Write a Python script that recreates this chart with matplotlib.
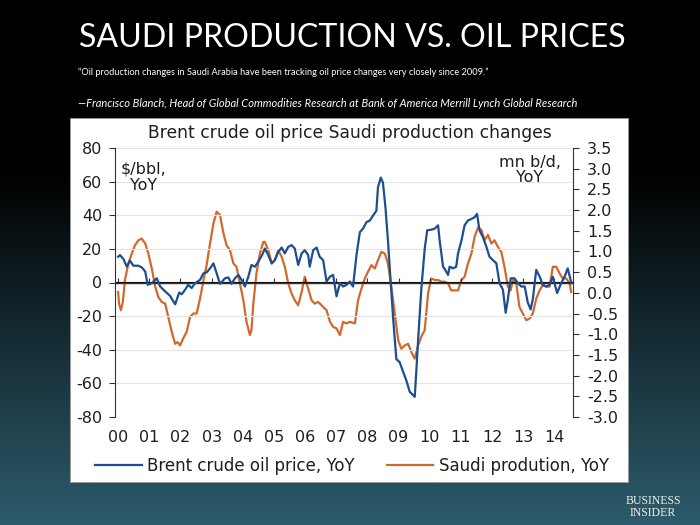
import numpy as np
import matplotlib
matplotlib.use("Agg")
import matplotlib.pyplot as plt
from matplotlib.patches import Rectangle
from matplotlib.lines import Line2D

plt.rcParams["axes.unicode_minus"] = False

# ── data (decimal years) ─────────────────────────────────────────────────
brent_years = [
    2000.00, 2000.06, 2000.17, 2000.28, 2000.38, 2000.49, 2000.65, 2000.76, 2000.87, 2000.95,
    2001.08, 2001.24, 2001.35, 2001.51, 2001.67, 2001.83, 2001.96, 2002.04, 2002.15, 2002.25,
    2002.36, 2002.47, 2002.63, 2002.74, 2002.84, 2002.95, 2003.06, 2003.16, 2003.27, 2003.43,
    2003.54, 2003.64, 2003.75, 2003.86, 2003.96, 2004.07, 2004.18, 2004.28, 2004.39, 2004.50,
    2004.62, 2004.71, 2004.82, 2004.93, 2005.03, 2005.14, 2005.25, 2005.35, 2005.46, 2005.57,
    2005.67, 2005.78, 2005.89, 2005.99, 2006.10, 2006.15, 2006.26, 2006.37, 2006.47, 2006.58,
    2006.69, 2006.80, 2006.90, 2007.01, 2007.12, 2007.22, 2007.33, 2007.44, 2007.54, 2007.65,
    2007.76, 2007.86, 2007.97, 2008.08, 2008.18, 2008.29, 2008.34, 2008.43, 2008.50, 2008.58,
    2008.66, 2008.75, 2008.83, 2008.93, 2009.04, 2009.15, 2009.25, 2009.36, 2009.47, 2009.52,
    2009.57, 2009.63, 2009.73, 2009.84, 2009.92, 2010.05, 2010.16, 2010.27, 2010.32, 2010.43,
    2010.50, 2010.59, 2010.64, 2010.75, 2010.85, 2010.91, 2011.02, 2011.12, 2011.23, 2011.34,
    2011.44, 2011.52, 2011.60, 2011.71, 2011.82, 2011.92, 2012.03, 2012.14, 2012.24, 2012.35,
    2012.44, 2012.51, 2012.60, 2012.72, 2012.83, 2012.94, 2013.05, 2013.15, 2013.24, 2013.31,
    2013.42, 2013.53, 2013.63, 2013.74, 2013.85, 2013.95, 2014.09, 2014.22, 2014.33, 2014.43,
    2014.52, 2014.55,
]
brent_yoy = [
    15.3, 16.3, 14.0, 9.4, 13.0, 10.0, 10.0, 9.0, 6.5, -1.4,
    -0.4, 2.5, -2.4, -5.3, -8.0, -13.0, -6.0, -7.0, -4.3, -1.4,
    -3.3, -0.4, 1.6, 5.5, 6.0, 8.4, 11.4, 5.5, -0.8, 2.5,
    3.0, -0.8, 2.5, 4.5, 1.6, -2.4, 3.5, 10.4, 9.4, 12.4,
    16.3, 20.2, 16.3, 11.4, 13.3, 18.2, 20.8, 17.3, 21.2, 22.2,
    20.2, 10.4, 17.3, 19.2, 16.3, 9.4, 19.2, 20.8, 15.3, 13.3,
    0.6, 3.5, 4.5, -8.2, -0.4, -2.4, -1.4, 0.6, -2.4, 16.3,
    30.0, 32.0, 35.9, 36.9, 39.8, 42.7, 56.5, 62.4, 59.4, 44.7,
    25.1, -0.4, -22.0, -45.5, -47.5, -53.3, -58.2, -65.0, -67.0, -68.0,
    -53.0, -33.7, -4.3, 20.0, 31.0, 31.4, 32.0, 34.0, 25.0, 9.4,
    7.5, 4.5, 9.4, 8.4, 9.4, 17.3, 25.0, 34.0, 36.9, 37.8,
    38.8, 40.8, 31.0, 27.0, 21.2, 15.3, 13.3, 11.4, -0.4, -4.3,
    -18.0, -10.0, 2.5, 2.5, -0.4, -2.4, -2.4, -12.0, -16.0, -10.0,
    7.5, 3.5, -1.4, -2.4, -1.4, 3.5, -6.3, -0.4, 3.5, 8.4,
    1.6, -0.4,
]

saudi_years = [
    2000.00, 2000.03, 2000.09, 2000.15, 2000.22, 2000.33, 2000.44, 2000.54, 2000.65, 2000.76,
    2000.87, 2000.97, 2001.08, 2001.19, 2001.29, 2001.40, 2001.51, 2001.61, 2001.72, 2001.83,
    2001.91, 2001.99, 2002.09, 2002.20, 2002.31, 2002.41, 2002.52, 2002.63, 2002.74, 2002.84,
    2002.95, 2003.06, 2003.16, 2003.27, 2003.38, 2003.48, 2003.59, 2003.70, 2003.80, 2003.91,
    2004.02, 2004.12, 2004.23, 2004.28, 2004.34, 2004.44, 2004.55, 2004.66, 2004.71, 2004.82,
    2004.93, 2005.03, 2005.14, 2005.25, 2005.35, 2005.46, 2005.57, 2005.67, 2005.78, 2005.89,
    2005.99, 2006.10, 2006.21, 2006.31, 2006.42, 2006.58, 2006.69, 2006.80, 2006.90, 2007.01,
    2007.12, 2007.22, 2007.33, 2007.44, 2007.60, 2007.70, 2007.81, 2007.92, 2008.02, 2008.13,
    2008.24, 2008.34, 2008.45, 2008.56, 2008.66, 2008.77, 2008.88, 2008.99, 2009.09, 2009.20,
    2009.31, 2009.41, 2009.52, 2009.63, 2009.73, 2009.84, 2009.90, 2009.95, 2010.05, 2010.16,
    2010.27, 2010.37, 2010.48, 2010.59, 2010.69, 2010.80, 2010.91, 2011.02, 2011.12, 2011.23,
    2011.34, 2011.44, 2011.55, 2011.66, 2011.76, 2011.87, 2011.98, 2012.08, 2012.19, 2012.30,
    2012.40, 2012.51, 2012.60, 2012.67, 2012.78, 2012.88, 2012.99, 2013.10, 2013.21, 2013.31,
    2013.42, 2013.53, 2013.63, 2013.74, 2013.85, 2013.95, 2014.06, 2014.17, 2014.27, 2014.38,
    2014.49, 2014.54,
]
saudi_yoy = [
    0.02, -0.26, -0.42, -0.22, 0.31, 0.71, 0.95, 1.15, 1.27, 1.31,
    1.19, 0.95, 0.59, 0.15, -0.10, -0.22, -0.26, -0.58, -0.94, -1.23,
    -1.19, -1.27, -1.10, -0.94, -0.58, -0.50, -0.50, -0.14, 0.31, 0.67,
    1.19, 1.68, 1.96, 1.88, 1.44, 1.15, 1.03, 0.71, 0.63, 0.23,
    -0.18, -0.70, -1.02, -0.90, -0.26, 0.47, 0.95, 1.23, 1.23, 1.03,
    0.71, 0.79, 1.03, 0.87, 0.63, 0.23, -0.02, -0.18, -0.30, 0.02,
    0.39, 0.10, -0.18, -0.26, -0.22, -0.34, -0.42, -0.70, -0.82, -0.86,
    -1.02, -0.70, -0.74, -0.70, -0.74, -0.18, 0.10, 0.35, 0.51, 0.67,
    0.59, 0.79, 0.99, 0.95, 0.71, 0.15, -0.50, -1.15, -1.35, -1.27,
    -1.23, -1.43, -1.59, -1.27, -1.06, -0.90, -0.40, 0.00, 0.35, 0.31,
    0.31, 0.27, 0.27, 0.23, 0.06, 0.06, 0.06, 0.31, 0.39, 0.71,
    0.95, 1.35, 1.58, 1.52, 1.27, 1.40, 1.19, 1.27, 1.11, 0.99,
    0.63, 0.15, 0.06, 0.31, 0.23, -0.34, -0.50, -0.66, -0.62, -0.50,
    -0.14, 0.06, 0.19, 0.15, 0.15, 0.63, 0.63, 0.47, 0.35, 0.35,
    0.23, 0.02,
]

year_ticks = list(range(2000, 2015))
year_labels = ["%02d" % (y - 2000) for y in year_ticks]
left_ticks = list(range(-80, 81, 20))
right_ticks = [-3.0, -2.5, -2.0, -1.5, -1.0, -0.5, 0.0, 0.5, 1.0, 1.5, 2.0, 2.5, 3.0, 3.5]

BLUE = "#1d4e8f"
ORANGE = "#d2692c"
INK = "#1e1e1e"
CHART_FONT = "DejaVu Sans"

fig = plt.figure(figsize=(7, 5.25), dpi=100)

# ── slide background: black fading into dark teal ──────────────────────
bg = fig.add_axes([0, 0, 1, 1], zorder=-10)
t = np.clip((np.arange(525) - 170) / 355.0, 0, 1)
bottom_rgb = np.array([45, 92, 108]) / 255.0
grad = t[:, None, None] * bottom_rgb[None, None, :]
bg.imshow(grad, aspect="auto", extent=[0, 1, 0, 1], origin="upper")
bg.add_patch(Rectangle((70 / 700, 1 - 482 / 525), 558 / 700, 364 / 525,
                       facecolor="white", edgecolor="#9a9a9a", lw=0.6))
bg.set_xlim(0, 1)
bg.set_ylim(0, 1)
bg.axis("off")

# ── slide texts ─────────────────────────────────────────────────────────
fig.text(352 / 700, 1 - 38 / 525, "SAUDI PRODUCTION VS. OIL PRICES",
         ha="center", va="center", color="white", fontsize=23.1, family="Lato")
fig.text(78 / 700, 1 - 72 / 525,
         "\u201cOil production changes in Saudi Arabia have been tracking oil price "
         "changes very closely since 2009.\u201d",
         ha="left", va="center", color="white", fontsize=6.7, family="Lato")
fig.text(78 / 700, 1 - 103 / 525,
         "\u2014Francisco Blanch, Head of Global Commodities Research at Bank of America "
         "Merrill Lynch Global Research",
         ha="left", va="center", color="white", fontsize=8.0, family="Lato",
         style="italic")
fig.text(653 / 700, 1 - 507 / 525, "BUSINESS\nINSIDER", ha="center", va="center",
         color="#eeeeee", fontsize=8.5, family="Liberation Serif", linespacing=1.0)

# ── chart ───────────────────────────────────────────────────────────────
ax = fig.add_axes([115 / 700, 1 - 417 / 525, 458 / 700, 269 / 525])
ax.set_facecolor("none")
ax2 = ax.twinx()

ax.set_xlim(1999.9, 2014.6)
ax.set_ylim(-80, 80)
ax2.set_ylim(-3.0, 3.5)

ax.set_yticks(left_ticks)
ax.set_yticklabels([str(v) for v in left_ticks])
ax2.set_yticks(right_ticks)
ax2.set_yticklabels(["%.1f" % v for v in right_ticks])
ax.set_xticks(year_ticks)
ax.set_xticklabels(year_labels)

ax.grid(axis="y", color="#e4e4e4", lw=0.8)
ax.set_axisbelow(True)
ax.axhline(0, color="#333333", lw=1.0, zorder=1)

zero_axis = ax.secondary_xaxis(0.5)
zero_axis.set_xticks(year_ticks)
zero_axis.set_xticklabels([])
zero_axis.tick_params(direction="out", length=3, width=0.8, color="#333333")
zero_axis.spines["bottom"].set_visible(False)

for a in (ax, ax2):
    for side in ("top", "bottom"):
        a.spines[side].set_visible(False)
ax.spines["right"].set_visible(False)
ax2.spines["left"].set_visible(False)
ax.spines["left"].set_color("#333333")
ax2.spines["right"].set_color("#333333")

ax.tick_params(axis="x", length=0, pad=9, labelsize=11.5, labelcolor=INK)
ax.tick_params(axis="y", length=4, color="#333333", pad=5, labelsize=11.5, labelcolor=INK)
ax2.tick_params(axis="y", length=4, color="#333333", pad=6, labelsize=11.5, labelcolor=INK)
for lab in ax.get_xticklabels() + ax.get_yticklabels() + ax2.get_yticklabels():
    lab.set_family(CHART_FONT)

ax2.plot(saudi_years, saudi_yoy, color=ORANGE, lw=1.6, zorder=2)
ax.set_zorder(ax2.get_zorder() + 1)
ax.plot(brent_years, brent_yoy, color=BLUE, lw=1.6, zorder=3)

fig.text(350 / 700, 1 - 133 / 525, "Brent crude oil price Saudi production changes",
         ha="center", va="center", color=INK, fontsize=12.3, family=CHART_FONT)
fig.text(144 / 700, 1 - 177 / 525, "$/bbl,\nYoY", ha="center", va="center",
         color=INK, fontsize=11.5, family=CHART_FONT, linespacing=1.1)
fig.text(530 / 700, 1 - 170 / 525, "mn b/d,\nYoY", ha="center", va="center",
         color=INK, fontsize=11.5, family=CHART_FONT, linespacing=1.0)

handles = [Line2D([], [], color=BLUE, lw=1.6), Line2D([], [], color=ORANGE, lw=1.6)]
fig.legend(handles, ["Brent crude oil price, YoY", "Saudi prodution, YoY"],
           loc="center left", bbox_to_anchor=(95 / 700, 1 - 466 / 525), ncol=2,
           frameon=False, borderpad=0, borderaxespad=0, handlelength=2.8,
           handletextpad=0.35, columnspacing=1.9,
           prop={"family": CHART_FONT, "size": 12})
for txt in fig.legends[0].get_texts():
    txt.set_color(INK)

fig.savefig("out.png", dpi=100)
